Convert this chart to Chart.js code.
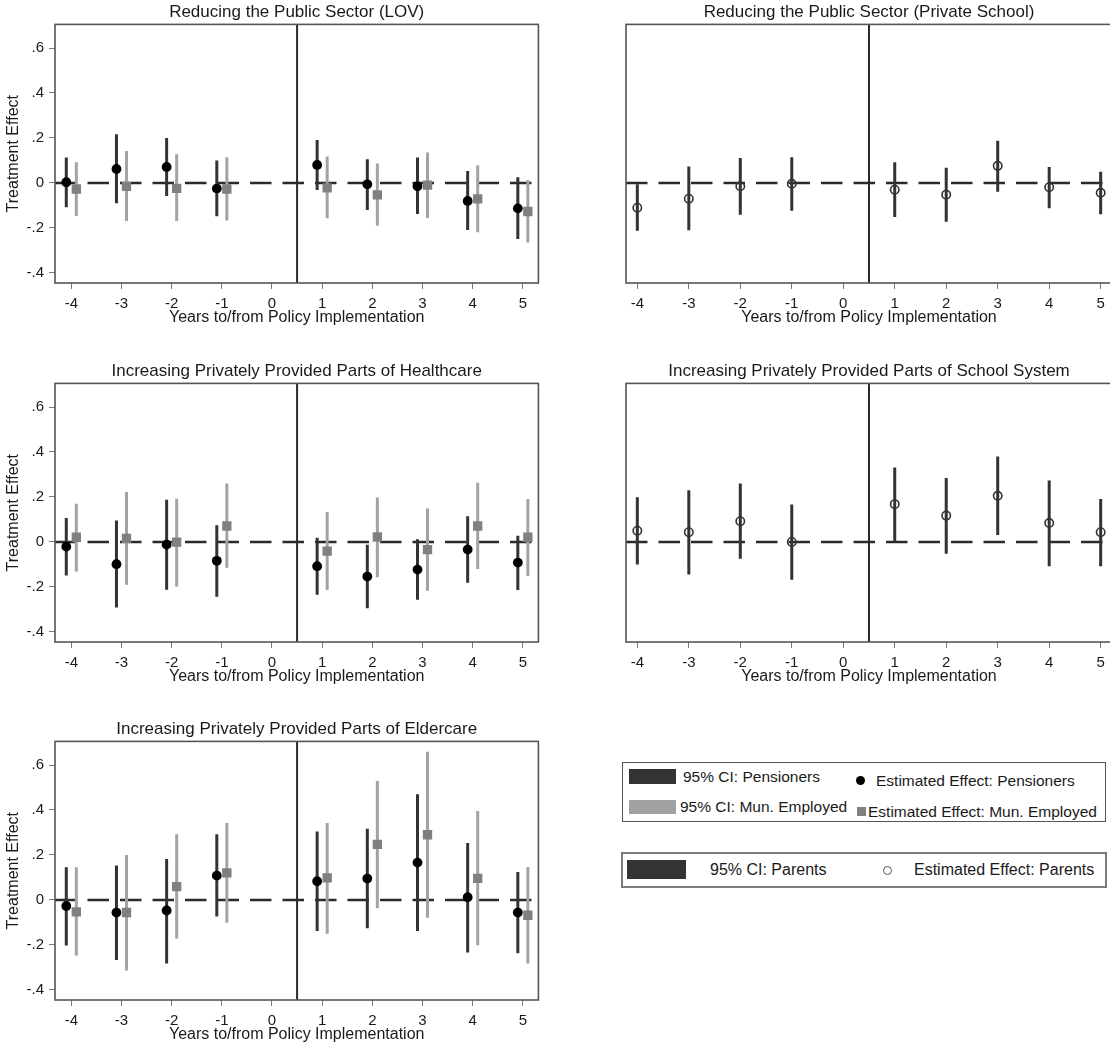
<!DOCTYPE html>
<html><head><meta charset="utf-8">
<script src="https://cdn.jsdelivr.net/npm/chart.js@4.4.1/dist/chart.umd.min.js"></script>
<style>
html,body{margin:0;padding:0;overflow:hidden;background:#fff;width:1110px;height:1044px;position:relative;}
canvas{position:absolute;}
.legend{position:absolute;box-sizing:border-box;font-family:'Liberation Sans',Arial,sans-serif;color:#1a1a1a;background:#fff;}
.legend span{position:absolute;white-space:nowrap;transform:translateY(-50%);line-height:1;}
.legend i{position:absolute;display:block;}
</style></head><body>
<canvas id="pLOV"></canvas>
<canvas id="pPrivSchool"></canvas>
<canvas id="pHealth"></canvas>
<canvas id="pSchoolSys"></canvas>
<canvas id="pElder"></canvas>

<div class="legend" id="leg1" style="left:622px;top:762px;width:484px;height:60px;border:1.5px solid #555;font-size:15.5px;">
  <i style="left:6px;top:6px;width:47px;height:15px;background:#333;"></i>
  <span style="left:60px;top:14px;">95% CI: Pensioners</span>
  <i style="left:233px;top:13px;width:9px;height:9px;border-radius:50%;background:#000;"></i>
  <span style="left:253px;top:18px;">Estimated Effect: Pensioners</span>
  <i style="left:6px;top:37px;width:47px;height:14px;background:#a0a0a0;"></i>
  <span style="left:57px;top:44px;">95% CI: Mun. Employed</span>
  <i style="left:234px;top:44px;width:9px;height:9px;background:#808080;"></i>
  <span style="left:245px;top:49px;">Estimated Effect: Mun. Employed</span>
</div>
<div class="legend" id="leg2" style="left:621px;top:852px;width:486px;height:36px;border:2px solid #7a7a7a;font-size:16px;">
  <i style="left:4px;top:6px;width:59px;height:19px;background:#333;"></i>
  <span style="left:87px;top:16px;">95% CI: Parents</span>
  <i style="left:260px;top:12px;width:7px;height:7px;border-radius:50%;border:1.5px solid #555;"></i>
  <span style="left:291px;top:16px;">Estimated Effect: Parents</span>
</div>

<script>
// ---------- data ----------
const years = [-4, -3, -2, -1, 1, 2, 3, 4, 5];
const xTicks = [-4, -3, -2, -1, 0, 1, 2, 3, 4, 5];
const yTicks = [-0.4, -0.2, 0, 0.2, 0.4, 0.6];
const yTickLabels = ['-.4', '-.2', '0', '.2', '.4', '.6'];
const policyCut = 0.5;
const xAxisTitle = 'Years to/from Policy Implementation';
const yAxisTitle = 'Treatment Effect';

// Reducing the Public Sector (LOV)
const lovPensEst = [0.003, 0.062, 0.071, -0.025, 0.080, -0.006, -0.015, -0.080, -0.113];
const lovPensLo  = [-0.108, -0.090, -0.058, -0.148, -0.031, -0.120, -0.138, -0.209, -0.249];
const lovPensHi  = [0.113, 0.216, 0.200, 0.100, 0.191, 0.105, 0.113, 0.053, 0.025];
const lovMunEst  = [-0.027, -0.015, -0.024, -0.027, -0.022, -0.053, -0.010, -0.071, -0.127];
const lovMunLo   = [-0.147, -0.169, -0.169, -0.167, -0.157, -0.190, -0.156, -0.219, -0.265];
const lovMunHi   = [0.092, 0.142, 0.127, 0.114, 0.118, 0.086, 0.135, 0.079, 0.013];

// Reducing the Public Sector (Private School)
const privParEst = [-0.110, -0.070, -0.015, -0.004, -0.030, -0.052, 0.076, -0.019, -0.044];
const privParLo  = [-0.213, -0.210, -0.142, -0.124, -0.151, -0.173, -0.039, -0.113, -0.139];
const privParHi  = [-0.006, 0.073, 0.111, 0.114, 0.092, 0.067, 0.188, 0.071, 0.050];

// Increasing Privately Provided Parts of Healthcare
const hcPensEst = [-0.021, -0.099, -0.012, -0.084, -0.108, -0.154, -0.123, -0.034, -0.092];
const hcPensLo  = [-0.149, -0.292, -0.213, -0.244, -0.235, -0.295, -0.257, -0.182, -0.214];
const hcPensHi  = [0.106, 0.095, 0.188, 0.074, 0.019, -0.013, 0.012, 0.114, 0.028];
const hcMunEst  = [0.021, 0.016, -0.001, 0.071, -0.041, 0.022, -0.034, 0.071, 0.021];
const hcMunLo   = [-0.131, -0.190, -0.198, -0.115, -0.214, -0.157, -0.217, -0.120, -0.151];
const hcMunHi   = [0.170, 0.222, 0.192, 0.260, 0.133, 0.198, 0.149, 0.263, 0.191];

// Increasing Privately Provided Parts of School System
const ssParEst = [0.050, 0.043, 0.092, 0.000, 0.168, 0.117, 0.205, 0.084, 0.043];
const ssParLo  = [-0.100, -0.145, -0.075, -0.168, 0.003, -0.053, 0.031, -0.108, -0.108];
const ssParHi  = [0.199, 0.230, 0.260, 0.167, 0.331, 0.284, 0.380, 0.273, 0.191];

// Increasing Privately Provided Parts of Eldercare
const ecPensEst = [-0.027, -0.056, -0.047, 0.108, 0.083, 0.095, 0.166, 0.012, -0.056];
const ecPensLo  = [-0.203, -0.267, -0.283, -0.074, -0.138, -0.126, -0.138, -0.234, -0.237];
const ecPensHi  = [0.145, 0.153, 0.182, 0.292, 0.304, 0.317, 0.470, 0.253, 0.124];
const ecMunEst  = [-0.053, -0.056, 0.059, 0.120, 0.098, 0.247, 0.290, 0.096, -0.068];
const ecMunLo   = [-0.247, -0.314, -0.172, -0.102, -0.150, -0.037, -0.079, -0.201, -0.283];
const ecMunHi   = [0.145, 0.200, 0.292, 0.342, 0.342, 0.529, 0.659, 0.396, 0.147];

// ---------- styles & layout ----------
const FONT = "'Liberation Sans', Arial, sans-serif";
const TXT = '#1a1a1a';
const Y_MIN = -0.445, Y_MAX = 0.705;

const seriesStyle = {
  pens: {offset: -0.1, ci: '#333333', ciW: 3, ps: 'circle', r: 4.9, fill: '#000000', border: '#000000', bw: 0},
  mun:  {offset: 0.1,  ci: '#a3a3a3', ciW: 3, ps: 'rect',   r: 6.6, fill: '#808080', border: '#808080', bw: 0},
  par:  {offset: 0,    ci: '#333333', ciW: 3, ps: 'circle', r: 4.2, fill: 'rgba(0,0,0,0)', border: '#333333', bw: 1.6}
};

const panels = [
  {id: 'pLOV', title: 'Reducing the Public Sector (LOV)', side: 'L', top: 0,
   groups: [['pens', lovPensEst, lovPensLo, lovPensHi], ['mun', lovMunEst, lovMunLo, lovMunHi]]},
  {id: 'pPrivSchool', title: 'Reducing the Public Sector (Private School)', side: 'R', top: 0,
   groups: [['par', privParEst, privParLo, privParHi]]},
  {id: 'pHealth', title: 'Increasing Privately Provided Parts of Healthcare', side: 'L', top: 359,
   groups: [['pens', hcPensEst, hcPensLo, hcPensHi], ['mun', hcMunEst, hcMunLo, hcMunHi]]},
  {id: 'pSchoolSys', title: 'Increasing Privately Provided Parts of School System', side: 'R', top: 359,
   groups: [['par', ssParEst, ssParLo, ssParHi]]},
  {id: 'pElder', title: 'Increasing Privately Provided Parts of Eldercare', side: 'L', top: 717,
   groups: [['pens', ecPensEst, ecPensLo, ecPensHi], ['mun', ecMunEst, ecMunLo, ecMunHi]]}
];

const sideLayout = {
  L: {left: 0,   width: 545, height: 326, padRight: 4,  yAxisW: 55, xMin: -4.325, xMax: 5.31, showY: true},
  R: {left: 570, width: 560, height: 326, padRight: 18, yAxisW: 56, xMin: -4.22,  xMax: 5.22, showY: false}
};

const framePlugin = {
  id: 'frame',
  afterDatasetsDraw(chart) {
    const {ctx, chartArea: a} = chart;
    ctx.save();
    ctx.strokeStyle = '#555555';
    ctx.lineWidth = 1.6;
    ctx.strokeRect(a.left, a.top, a.right - a.left, a.bottom - a.top);
    ctx.restore();
  }
};

function ciPoints(est, lo, hi, off) {
  const pts = [];
  years.forEach((yr, i) => {
    pts.push({x: yr + off, y: lo[i]}, {x: yr + off, y: hi[i]}, {x: yr + off, y: null});
  });
  return pts;
}

panels.forEach(p => {
  const L = sideLayout[p.side];
  const cv = document.getElementById(p.id);
  cv.width = L.width; cv.height = L.height;
  cv.style.left = L.left + 'px'; cv.style.top = p.top + 'px';
  cv.style.width = L.width + 'px'; cv.style.height = L.height + 'px';

  const datasets = [
    {data: [{x: L.xMin, y: 0}, {x: L.xMax, y: 0}], showLine: true, borderColor: '#2a2a2a',
     borderWidth: 2.5, borderDash: [21.5, 11], pointRadius: 0, order: 5},
    {data: [{x: policyCut, y: Y_MIN}, {x: policyCut, y: Y_MAX}], showLine: true, borderColor: '#2a2a2a',
     borderWidth: 2, pointRadius: 0, order: 5}
  ];
  p.groups.forEach(([key, est, lo, hi], gi) => {
    const s = seriesStyle[key];
    datasets.push({data: ciPoints(est, lo, hi, s.offset), showLine: true, spanGaps: false,
      borderColor: s.ci, borderWidth: s.ciW, pointRadius: 0, order: 4 - gi});
    datasets.push({data: years.map((yr, i) => ({x: yr + s.offset, y: est[i]})), showLine: false,
      pointStyle: s.ps, pointRadius: s.r, backgroundColor: s.fill, borderColor: s.border,
      borderWidth: s.bw, pointBorderWidth: s.bw, order: 1 - gi * 0.5});
  });

  new Chart(cv, {
    type: 'scatter',
    data: {datasets},
    options: {
      responsive: false, animation: false, devicePixelRatio: 1,
      layout: {padding: {left: 0, right: L.padRight, top: 0, bottom: 0}},
      plugins: {
        legend: {display: false}, tooltip: {enabled: false},
        title: {display: true, text: p.title, fullSize: false, color: TXT,
                font: {family: FONT, size: 17, weight: 'normal', lineHeight: 1.2},
                padding: {top: 2.5, bottom: 1.5}}
      },
      scales: {
        x: {type: 'linear', min: L.xMin, max: L.xMax,
            afterBuildTicks: ax => { ax.ticks = xTicks.map(v => ({value: v})); },
            afterFit: ax => { ax.height = 43; },
            grid: {display: true, drawOnChartArea: false, drawTicks: true, tickLength: 6, color: '#777', lineWidth: 1},
            border: {display: false},
            ticks: {autoSkip: false, maxRotation: 0, padding: 6, color: TXT,
                    font: {family: FONT, size: 15}, callback: (v, i) => String(xTicks[i])},
            title: {display: true, text: xAxisTitle, color: TXT,
                    font: {family: FONT, size: 16, lineHeight: 1.2}, padding: {top: 0, bottom: -1.5}}},
        y: {type: 'linear', min: Y_MIN, max: Y_MAX,
            afterBuildTicks: ax => { ax.ticks = yTicks.map(v => ({value: v})); },
            afterFit: ax => { ax.width = L.yAxisW; },
            grid: {display: L.showY, drawOnChartArea: false, drawTicks: true, tickLength: 6, color: '#777', lineWidth: 1},
            border: {display: false},
            ticks: {display: L.showY, padding: 5, color: TXT,
                    font: {family: FONT, size: 15}, callback: (v, i) => yTickLabels[i]},
            title: {display: L.showY, text: yAxisTitle, color: TXT,
                    font: {family: FONT, size: 16, lineHeight: 1.2}, padding: {top: 3.5, bottom: 0}}}
      }
    },
    plugins: [framePlugin]
  });
});
</script>
</body></html>
